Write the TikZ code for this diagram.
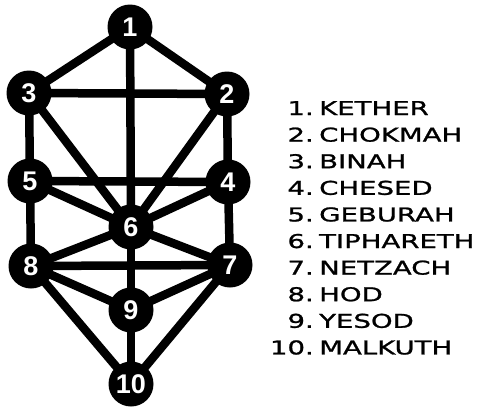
\documentclass[tikz,border=0pt]{standalone}
\usepackage{fontspec}
\newfontfamily\legendfont[FakeStretch=1.45,FakeBold=1.2]{DejaVu Sans}
\newfontfamily\numfont{Liberation Sans}
\usetikzlibrary{backgrounds}
\begin{document}
\begin{tikzpicture}[x=1pt,y=-1pt,
  sephira/.style={circle,fill=black,minimum size=45pt,inner sep=0pt,
    text=white,font=\numfont\bfseries\fontsize{27}{27}\selectfont},
  path/.style={line width=8.5pt},
  lnum/.style={anchor=base east,inner sep=0pt,font=\legendfont\fontsize{19}{19}\selectfont},
  lname/.style={anchor=base west,inner sep=0pt,font=\legendfont\fontsize{19}{19}\selectfont}]
\useasboundingbox (0,0) rectangle (480,407);
\node[sephira] (n1) at (130,27) {1};
\node[sephira] (n2) at (227,94) {2};
\node[sephira] (n3) at (29,93) {3};
\node[sephira] (n4) at (228,182) {4};
\node[sephira] (n5) at (30,181) {5};
\node[sephira] (n6) at (131,227) {6};
\node[sephira] (n7) at (230,265) {7};
\node[sephira] (n8) at (31,266) {8};
\node[sephira] (n9) at (131,310) {9};
\node[sephira] (n10) at (131,384) {10};
\begin{scope}[on background layer]
\foreach \a/\b in {1/2,1/3,1/6,3/2,3/5,3/6,2/4,2/6,5/4,5/6,4/6,5/8,4/7,6/8,6/7,6/9,8/7,8/9,7/9,8/10,7/10,9/10}
  \draw[path] (n\a.center) -- (n\b.center);
\end{scope}
\foreach \i/\t [count=\k from 0] in {1/KETHER,2/CHOKMAH,3/BINAH,4/CHESED,5/GEBURAH,6/TIPHARETH,7/NETZACH,8/HOD,9/YESOD,10/MALKUTH}{
  \node[lnum] (num\i) at (314,{115+26.6*\k}) {\i.};
  \node[lname] (name\i) at (319,{115+26.6*\k}) {\t};
}
\end{tikzpicture}
\end{document}
